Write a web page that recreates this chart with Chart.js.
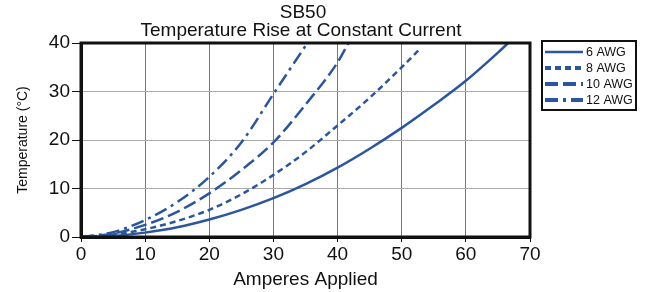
<!DOCTYPE html>
<html>
<head>
<meta charset="utf-8">
<script src="https://cdn.jsdelivr.net/npm/chart.js@4"></script>
<style>
  html, body { margin: 0; padding: 0; background: #fff; }
  #wrap { width: 650px; height: 292px; }
</style>
</head>
<body>
<div id="wrap"><canvas id="rise"></canvas></div>
<script>
// Temperature rise data
var amps6  = [0, 5, 10, 15, 20, 25, 30, 35, 40, 45, 50, 55, 60, 65, 66.6];
var rise6  = [0, 0.2, 0.9, 2.0, 3.6, 5.6, 8, 10.9, 14.3, 18.2, 22.5, 27.2, 32.2, 38.0, 40];
var amps8  = [0, 5, 10, 15, 20, 25, 30, 35, 40, 45, 50, 53];
var rise8  = [0, 0.5, 1.6, 3.3, 5.6, 8.8, 12.8, 17.5, 23, 28.7, 35, 39];
var amps10 = [0, 5, 10, 15, 20, 25, 30, 35, 40, 41.7];
var rise10 = [0, 0.7, 2.5, 5.2, 9, 13.8, 19.5, 27.3, 36, 40];
var amps12 = [0, 5, 10, 15, 20, 25, 30, 35.3];
var rise12 = [0, 1, 3.5, 7.2, 12.4, 19.5, 29.5, 40];
var wireNames = ["6 AWG", "8 AWG", "10 AWG", "12 AWG"];
var xTicks = [0, 10, 20, 30, 40, 50, 60, 70];
var yTicks = [0, 10, 20, 30, 40];

var blue = "rgb(43, 86, 155)";
var dashes = [[], [6, 4], [13, 5], [13, 5, 3, 5]];
var font = "'Liberation Sans', Arial, sans-serif";

function pts(xs, ys) {
  return xs.map(function(x, i) { return { x: x, y: ys[i] }; });
}

var series = [pts(amps6, rise6), pts(amps8, rise8), pts(amps10, rise10), pts(amps12, rise12)];

// frame round the plot + boxed legend + two-line title
var extras = {
  id: "extras",
  afterDraw: function(chart) {
    var ctx = chart.ctx, a = chart.chartArea;
    ctx.save();
    ctx.strokeStyle = "#111";
    ctx.lineWidth = 3;
    ctx.strokeRect(a.left, a.top, a.right - a.left, a.bottom - a.top);

    ctx.fillStyle = "#111";
    ctx.font = "19px " + font;
    ctx.textAlign = "center";
    ctx.textBaseline = "middle";
    ctx.fillText("SB50", 303, 13);
    ctx.fillText("Temperature Rise at Constant Current", 301, 31);

    // legend
    ctx.lineWidth = 2;
    ctx.strokeRect(542, 41, 94, 69);
    ctx.font = "12.5px " + font;
    ctx.textAlign = "left";
    wireNames.forEach(function(name, i) {
      var y = 52 + i * 16;
      ctx.strokeStyle = blue;
      ctx.lineWidth = i === 0 ? 2.5 : 4;
      ctx.setLineDash(dashes[i]);
      ctx.beginPath();
      ctx.moveTo(545, y);
      ctx.lineTo(583, y);
      ctx.stroke();
      ctx.setLineDash([]);
      ctx.fillStyle = "#111";
      ctx.fillText(name, 586, y + 1);
    });
    ctx.restore();
  }
};

new Chart(document.getElementById("rise"), {
  type: "line",
  data: {
    datasets: series.map(function(d, i) {
      return {
        label: wireNames[i],
        data: d,
        borderColor: blue,
        borderWidth: 2.5,
        borderDash: dashes[i],
        pointRadius: 0,
        fill: false,
        cubicInterpolationMode: "monotone"
      };
    })
  },
  options: {
    responsive: true,
    maintainAspectRatio: false,
    animation: false,
    layout: { padding: { left: 0, top: 43, right: 120, bottom: 0 } },
    plugins: {
      legend: { display: false },
      title: { display: false },
      tooltip: { enabled: false }
    },
    scales: {
      x: {
        type: "linear",
        min: 0, max: 70,
        afterFit: function(s) { s.height = 55; },
        afterBuildTicks: function(s) { s.ticks = xTicks.map(function(v) { return { value: v }; }); },
        grid: { color: "#777", lineWidth: 1, tickColor: "#111", tickLength: 5 },
        border: { color: "#111", width: 3 },
        ticks: { color: "#111", font: { family: font, size: 19 }, padding: 1, maxRotation: 0 },
        title: { display: true, text: "Amperes Applied", color: "#111",
                 font: { family: font, size: 19 }, padding: { top: 0, bottom: 1 } }
      },
      y: {
        min: 0, max: 40,
        afterFit: function(s) { s.width = 81; },
        afterBuildTicks: function(s) { s.ticks = yTicks.map(function(v) { return { value: v }; }); },
        grid: { color: "#aaa", lineWidth: 1, tickColor: "#111", tickLength: 9 },
        border: { color: "#111", width: 3 },
        ticks: { color: "#111", font: { family: font, size: 19 }, padding: 2 },
        title: { display: true, text: "Temperature (°C)", color: "#111",
                 font: { family: font, size: 14 }, padding: { top: 15, bottom: 0 } }
      }
    }
  },
  plugins: [extras]
});
</script>
</body>
</html>
